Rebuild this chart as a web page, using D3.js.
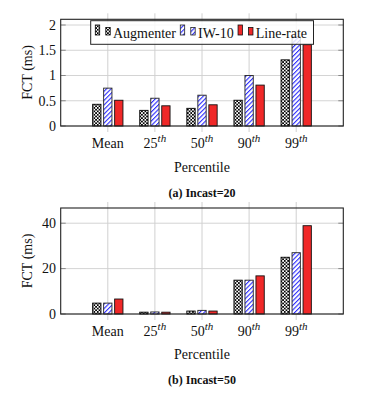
<!DOCTYPE html>
<html><head><meta charset="utf-8">
<script src="https://cdn.jsdelivr.net/npm/d3@7"></script>
<style>
html,body{margin:0;padding:0;background:#fff;}
svg text{font-family:'Liberation Serif','DejaVu Serif','Times New Roman',Times,serif;fill:#111;}
</style></head>
<body><svg id="c" width="381" height="401" font-family="'Liberation Serif','DejaVu Serif','Times New Roman',serif"></svg>
<script>
const categories = ["Mean","25","50","90","99"];
const categorySup = ["","th","th","th","th"];
const seriesNames = ["Augmenter","IW-10","Line-rate"];
// Incast=20 (ms)
const aug20  = [0.43, 0.31, 0.35, 0.51, 1.31];
const iw20   = [0.75, 0.55, 0.61, 1.00, 1.77];
const lr20   = [0.51, 0.40, 0.42, 0.81, 1.61];
// Incast=50 (ms)
const aug50  = [4.8, 0.8, 1.3, 14.9, 25.0];
const iw50   = [4.8, 0.9, 1.6, 14.9, 27.0];
const lr50   = [6.6, 0.8, 1.3, 16.8, 38.9];
const yTicks20 = [0, 0.5, 1, 1.5, 2];
const yTickLabels20 = ["0","0.5","1","1.5","2"];
const yTicks50 = [0, 20, 40];
const yTickLabels50 = ["0","20","40"];
const captions = ["(a) Incast=20","(b) Incast=50"];

const FONT = "'Liberation Serif','DejaVu Serif','Times New Roman',serif";
const svg = d3.select("#c");
const defs = svg.append("defs");
const pc = defs.append("pattern").attr("id","pChk").attr("patternUnits","userSpaceOnUse")
  .attr("width",3.4).attr("height",3.4);
pc.append("rect").attr("width",3.4).attr("height",3.4).attr("fill","#fff");
pc.append("rect").attr("width",1.7).attr("height",1.7).attr("fill","#000");
pc.append("rect").attr("x",1.7).attr("y",1.7).attr("width",1.7).attr("height",1.7).attr("fill","#000");
const pl = defs.append("pattern").attr("id","pNE").attr("patternUnits","userSpaceOnUse")
  .attr("width",3.2).attr("height",3.2).attr("patternTransform","rotate(45)");
pl.append("rect").attr("width",3.2).attr("height",3.2).attr("fill","#fff");
pl.append("rect").attr("x",0).attr("y",0).attr("width",1.1).attr("height",3.2).attr("fill","#2a2aff");

const fills = ["url(#pChk)","url(#pNE)","#f02828"];
const strokes = ["#000","#222","#111"];

const left = 60.7, right = 343.3;
const x = d3.scaleLinear().domain([-1, categories.length]).range([left, right]);
const offsets = [-11, 0, 11];
const barW = 8.3;

function panel(cfg){
  const {top, bottom, ymax, series, ticks, tickLabels, tickBase, xlabBase, capBase, ylabY, caption} = cfg;
  const y = d3.scaleLinear().domain([0, ymax]).range([bottom, top]);
  const g = svg.append("g").attr("font-family",FONT);
  g.selectAll(".hg").data(ticks).join("line")
    .attr("x1",left).attr("x2",right).attr("y1",d=>y(d)).attr("y2",d=>y(d))
    .attr("stroke","#d4d4d4").attr("stroke-width",1);
  g.selectAll(".vg").data(categories).join("line")
    .attr("x1",(d,i)=>x(i)).attr("x2",(d,i)=>x(i)).attr("y1",top-6).attr("y2",bottom+6)
    .attr("stroke","#d0d0d0").attr("stroke-width",1);
  g.selectAll(".yt").data(ticks).join("line")
    .attr("x1",left).attr("x2",left+5).attr("y1",d=>y(d)).attr("y2",d=>y(d))
    .attr("stroke","#888").attr("stroke-width",1);
  g.selectAll(".yt2").data(ticks).join("line")
    .attr("x1",right-5).attr("x2",right).attr("y1",d=>y(d)).attr("y2",d=>y(d))
    .attr("stroke","#888").attr("stroke-width",1);
  series.forEach((vals, s) => {
    g.selectAll(".b"+s).data(vals).join("rect")
      .attr("x",(d,i)=>x(i)+offsets[s]-barW/2)
      .attr("width",barW)
      .attr("y",d=>y(d))
      .attr("height",d=>bottom-y(d))
      .attr("fill",fills[s]).attr("stroke",strokes[s]).attr("stroke-width",0.9);
  });
  g.append("rect").attr("x",left).attr("y",top).attr("width",right-left).attr("height",bottom-top)
    .attr("fill","none").attr("stroke","#222").attr("stroke-width",1.1);
  g.selectAll(".yl").data(ticks).join("text")
    .attr("x",56).attr("y",d=>y(d)+4.8).attr("text-anchor","end")
    .attr("font-size",14).text((d,i)=>tickLabels[i]);
  const xl = g.selectAll(".xl").data(categories).join("text")
    .attr("x",(d,i)=>x(i)).attr("y",tickBase).attr("text-anchor","middle").attr("font-size",14);
  xl.append("tspan").text(d=>d);
  xl.filter((d,i)=>categorySup[i]).append("tspan").attr("dy",-6).attr("font-size",11)
    .attr("font-style","italic").text(d=>categorySup[categories.indexOf(d)]);
  g.append("text").attr("x",(left+right)/2).attr("y",xlabBase).attr("text-anchor","middle")
    .attr("font-size",14).text("Percentile");
  g.append("text").attr("transform",`translate(31.5,${ylabY}) rotate(-90)`).attr("text-anchor","middle")
    .attr("font-size",14).text("FCT (ms)");
  g.append("text").attr("x",(left+right)/2).attr("y",capBase).attr("text-anchor","middle")
    .attr("font-size",12).attr("font-weight","bold").text(caption);
  return {g, y};
}

panel({top:19.3, bottom:126, ymax:2.113, series:[aug20,iw20,lr20], ticks:yTicks20,
  tickLabels:yTickLabels20, tickBase:148, xlabBase:171.5, capBase:197, ylabY:72.5, caption:captions[0]});
panel({top:208, bottom:314, ymax:46.7, series:[aug50,iw50,lr50], ticks:yTicks50,
  tickLabels:yTickLabels50, tickBase:336, xlabBase:359, capBase:384, ylabY:261, caption:captions[1]});

const lg = svg.append("g").attr("font-family",FONT);
lg.append("rect").attr("x",90.7).attr("y",20.7).attr("width",222.8).attr("height",23.6)
  .attr("fill","#fff").attr("fill-opacity",0.82).attr("stroke","#222").attr("stroke-width",1);
let cx = 97.5;
seriesNames.forEach((name, s) => {
  const base = 35;
  lg.append("rect").attr("x",cx-2.2).attr("y",base-10).attr("width",4.4).attr("height",10)
    .attr("fill",fills[s]).attr("stroke",strokes[s]).attr("stroke-width",0.8);
  lg.append("rect").attr("x",cx+10.5-2.2).attr("y",base-7.5).attr("width",4.4).attr("height",7.5)
    .attr("fill",fills[s]).attr("stroke",strokes[s]).attr("stroke-width",0.8);
  const t = lg.append("text").attr("x",cx+15.5).attr("y",37.5).attr("font-size",14).text(name);
  cx = cx + 15.5 + t.node().getComputedTextLength() + 6.5;
});
</script>
</body></html>
